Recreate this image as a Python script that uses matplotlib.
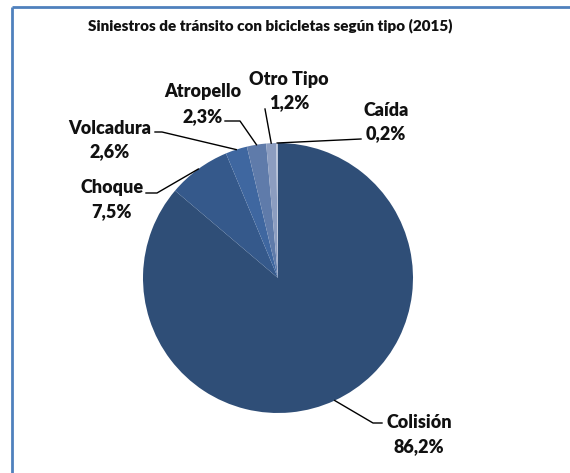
import numpy as np
import matplotlib
matplotlib.use("Agg")
import matplotlib.pyplot as plt

# ---- data ----
categories = ["Colisión", "Choque", "Volcadura", "Atropello", "Otro Tipo", "Caída"]
values = [86.2, 7.5, 2.6, 2.3, 1.2, 0.2]
title = "Siniestros de tránsito con bicicletas según tipo (2015)"

colors = ["#2F4E77", "#35598B", "#3F67A0", "#5F7BAA", "#8C9DC0", "#B9C4DA"]

W, H = 570, 473
fig = plt.figure(figsize=(W / 100, H / 100), dpi=100)
ax = fig.add_axes([0, 0, 1, 1])

def Y(y):
    return H - y

cx, cy, r = 278, 278, 135
ax.pie(values, colors=colors, startangle=90, counterclock=False,
       center=(cx, Y(cy)), radius=r, wedgeprops=dict(linewidth=0),
       frame=True)
ax.set_xlim(0, W)
ax.set_ylim(0, H)
ax.set_aspect('equal')
ax.axis('off')

# border (Excel chart area)
bc = "#4F81BD"
ax.plot([12, 12], [Y(7), Y(H + 5)], color=bc, lw=2.0, solid_capstyle='butt')
ax.plot([12, W + 5], [Y(7), Y(7)], color=bc, lw=2.0, solid_capstyle='butt')

ax.text(270, Y(26), title, ha='center', va='center', fontsize=11,
        fontweight='heavy', family='Lato', color='#111111')

# label layout: (text center x, line1 y, line2 y, elbow, stub end)
layout = {
    "Colisión": (419, 423, 447, (373, 423), (382, 423)),
    "Choque": (112, 188, 212, (157, 193), (146, 193)),
    "Volcadura": (110, 128, 152, (162, 132), (155, 132)),
    "Atropello": (203, 92, 117, (240, 121), (225, 121)),
    "Otro Tipo": (289, 80, 103, (265, 109), (265, 109)),
    "Caída": (386, 110, 134, (361, 139), (361, 139)),
}

total = sum(values)
cum = 0.0
for cat, v in zip(categories, values):
    mid = (cum + v / 2) / total
    cum += v
    ang = 2 * np.pi * mid  # clockwise from top
    ex = cx + r * np.sin(ang)
    ey = cy - r * np.cos(ang)
    tx, y1, y2, elbow, stub = layout[cat]
    xs = [ex, elbow[0], stub[0]]
    ys = [Y(ey), Y(elbow[1]), Y(stub[1])]
    ax.plot(xs, ys, color='black', lw=1.0)
    pct = f"{v:.1f}".replace('.', ',') + "%"
    ax.text(tx, Y(y1), cat, ha='center', va='center', fontsize=13,
            fontweight='heavy', family='Lato', color='#111111')
    ax.text(tx, Y(y2), pct, ha='center', va='center', fontsize=13,
            fontweight='heavy', family='Lato', color='#111111')

fig.savefig("out.png", dpi=100, facecolor='white')
